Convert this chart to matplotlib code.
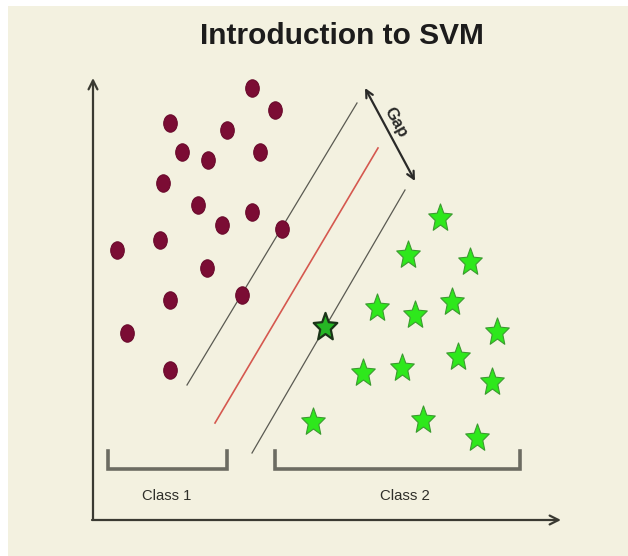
import matplotlib
matplotlib.use("Agg")
import matplotlib.pyplot as plt
import numpy as np
from matplotlib import font_manager
from matplotlib.patches import Rectangle
from matplotlib.path import Path
from matplotlib.transforms import Affine2D

# ---------------- data (pixel-space coordinates) ----------------
class1_x = [252, 275, 170, 227, 182, 208, 260, 163, 198, 252, 222, 282, 117, 160, 207, 170, 242, 127, 170]
class1_y = [88, 110, 123, 130, 152, 160, 152, 183, 205, 212, 225, 229, 250, 240, 268, 300, 295, 333, 370]

class2_x = [440, 408, 470, 452, 377, 415, 497, 458, 402, 363, 492, 313, 423, 477]
class2_y = [218, 255, 262, 302, 308, 315, 332, 357, 368, 373, 382, 422, 420, 438]

support_x = [325]
support_y = [327]

# margin lines and separating hyperplane (x0, x1), (y0, y1)
upper_margin_x, upper_margin_y = [187, 357], [385, 103]
hyperplane_x, hyperplane_y = [215, 378], [423, 148]
lower_margin_x, lower_margin_y = [252, 405], [453, 190]

title = "Introduction to SVM"
class_labels = ["Class 1", "Class 2"]
bracket_x = [(108, 227), (275, 520)]

# ---------------- fonts ----------------
names = {f.name for f in font_manager.fontManager.ttflist}
narrow = "Liberation Sans Narrow" if "Liberation Sans Narrow" in names else "Liberation Sans"

# ---------------- figure ----------------
fig = plt.figure(figsize=(6.28, 5.56), dpi=100, facecolor="white")
ax = fig.add_axes([0, 0, 1, 1])
ax.set_xlim(0, 628)
ax.set_ylim(556, 0)
ax.axis("off")

ax.add_patch(Rectangle((8, 6), 620, 550, facecolor="#f3f1e0", edgecolor="none", zorder=0))

# axes arrows
arrow_kw = dict(arrowstyle="->", lw=1.6, color="#3a3a32", mutation_scale=16, shrinkA=0, shrinkB=0)
ax.annotate("", xy=(93, 78), xytext=(93, 519), arrowprops=arrow_kw, zorder=2)
ax.annotate("", xy=(561, 520), xytext=(92, 520), arrowprops=arrow_kw, zorder=2)

# margin lines
ax.plot(upper_margin_x, upper_margin_y, color="#5a5a52", lw=0.9, zorder=1)
ax.plot(lower_margin_x, lower_margin_y, color="#5a5a52", lw=0.9, zorder=1)
ax.plot(hyperplane_x, hyperplane_y, color="#d5584f", lw=1.2, zorder=1)

# gap arrow
ax.annotate("", xy=(365, 88), xytext=(415, 181),
            arrowprops=dict(arrowstyle="<->", lw=1.6, color="#2a2a28",
                            mutation_scale=13, shrinkA=0, shrinkB=0), zorder=2)
ax.text(396, 122, "Gap", rotation=-61, rotation_mode="anchor", ha="center", va="center",
        fontsize=12, family=narrow, fontweight="bold", color="#2a2a28")

# markers squeezed horizontally like the picture
circ = Path.unit_circle()
ellipse_marker = circ.transformed(Affine2D().scale(0.78, 1.0))
star = Path.unit_regular_star(5, 0.45)
star_marker = star.transformed(Affine2D().scale(0.85, 1.0))

ax.plot(class1_x, class1_y, linestyle="none", marker=ellipse_marker, markersize=12.5,
        markerfacecolor="#7b0c34", markeredgecolor="#6a0a2c", markeredgewidth=0.8, zorder=3)
ax.plot(class2_x, class2_y, linestyle="none", marker=star_marker, markersize=21,
        markerfacecolor="#2ee81c", markeredgecolor="#3c9a30", markeredgewidth=0.8, zorder=3)
ax.plot(support_x, support_y, linestyle="none", marker=star_marker, markersize=21,
        markerfacecolor="#26b624", markeredgecolor="#1b3418", markeredgewidth=1.6, zorder=4)

# brackets
for x0, x1 in bracket_x:
    ax.plot([x0, x0, x1, x1], [451, 469, 469, 451], color="#6c6c62", lw=2.6,
            solid_joinstyle="miter", zorder=2)

# texts
t_title = ax.text(342, 36, title, ha="center", va="center", fontsize=30,
                  family=narrow, fontweight="bold", color="#1c1c1c")
t1 = ax.text(167, 496, class_labels[0], ha="center", va="center", fontsize=13,
             family=narrow, color="#2f2f2a")
t2 = ax.text(405, 496, class_labels[1], ha="center", va="center", fontsize=13,
             family=narrow, color="#2f2f2a")

fig.canvas.draw()
r = fig.canvas.get_renderer()
for t, target in [(t_title, 284), (t1, 49), (t2, 50)]:
    w = t.get_window_extent(r).width
    t.set_fontsize(t.get_fontsize() * target / w)

fig.savefig("out.png", dpi=100, facecolor="white")
